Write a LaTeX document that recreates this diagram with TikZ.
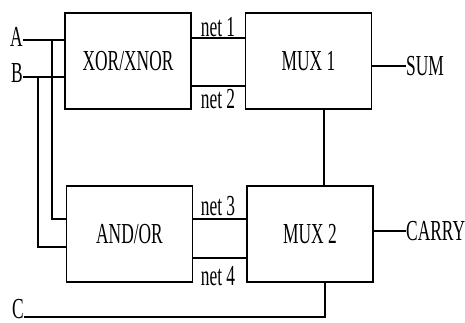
\documentclass[tikz,border=0pt]{standalone}
\usepackage{fontspec}
\setmainfont{Liberation Serif}
\usepackage{graphicx}
\newcommand{\sq}[1]{\scalebox{0.6}[1]{#1}}
\tikzset{
  blk/.style={draw, line width=1.8pt, minimum width=126pt, minimum height=96pt, inner sep=0pt, font=\fontsize{29}{31}\selectfont},
  wire/.style={line width=1.8pt},
  lbl/.style={inner sep=0pt, font=\fontsize{29}{31}\selectfont},
}

\begin{document}
\begin{tikzpicture}[x=1pt,y=-1pt]
  \useasboundingbox (0,0) rectangle (465,323);
  % blocks
  \node[blk] (xor) at (128,61) {\sq{XOR/XNOR}};
  \node[blk] (mux1) at (308.5,61) {\sq{MUX 1}};
  \node[blk] (andor) at (129.5,234) {\sq{AND/OR}};
  \node[blk] (mux2) at (310,234) {\sq{MUX 2}};
  % inputs
  \coordinate (ina) at (23,40);
  \coordinate (inb) at (23,77);
  \coordinate (inc) at (24,317);
  \coordinate (ja) at (52,40);
  \coordinate (jb) at (38,77);
  \node[lbl, anchor=east] (a) at ([yshift=3pt]ina) {\sq{A}};
  \node[lbl, anchor=east] (b) at ([yshift=4pt]inb) {\sq{B}};
  \node[lbl, anchor=east] (c) at ([yshift=8pt]inc) {\sq{C}};
  \draw[wire] (ina) -- (ina -| xor.west);
  \draw[wire] (inb) -- (inb -| xor.west);
  \draw[wire] (ja) |- (andor.west |- 0,219);
  \draw[wire] (jb) |- (andor.west |- 0,247);
  \draw[wire] (inc) -| (325,0 |- mux2.south);
  % nets
  \draw[wire] (xor.east |- 0,38) -- (mux1.west |- 0,38);
  \draw[wire] (xor.east |- 0,86) -- (mux1.west |- 0,86);
  \draw[wire] (andor.east |- 0,219) -- (mux2.west |- 0,219);
  \draw[wire] (andor.east |- 0,258) -- (mux2.west |- 0,258);
  \node[lbl] (n1) at (218,27) {\sq{net 1}};
  \node[lbl] (n2) at (218,99) {\sq{net 2}};
  \node[lbl] (n3) at (218,206) {\sq{net 3}};
  \node[lbl] (n4) at (218,276) {\sq{net 4}};
  \draw[wire] (324,0 |- mux1.south) -- (324,0 |- mux2.north);
  % outputs
  \node[lbl, anchor=west] (sum) at (406,66) {\sq{SUM}};
  \node[lbl, anchor=west] (carry) at (406,231) {\sq{CARRY}};
  \draw[wire] (mux1.east |- sum.west) -- (sum.west);
  \draw[wire] (mux2.east |- carry.west) -- (carry.west);
\end{tikzpicture}
\end{document}
